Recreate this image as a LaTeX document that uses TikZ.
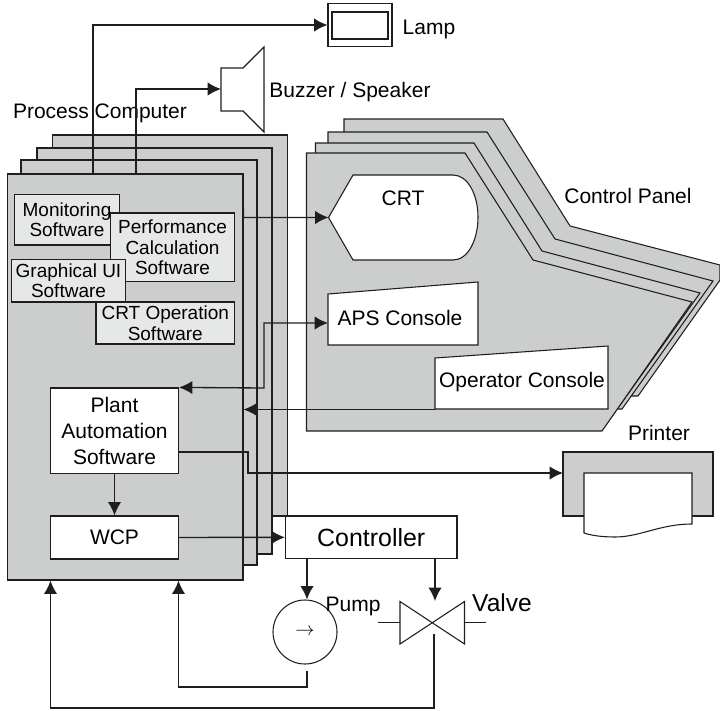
\documentclass[tikz,border=0pt]{standalone}
\usepackage{fontspec}
\setmainfont{Liberation Sans}
\usepackage{tikz}
\usetikzlibrary{arrows.meta, positioning, calc}
\definecolor{PlateGray}{RGB}{204,206,205}
\definecolor{SoftGray}{RGB}{230,231,231}
\definecolor{InkDark}{RGB}{30,30,30}
\tikzset{
	layerbox/.style={draw=InkDark,fill=PlateGray,line width=0.9pt,inner sep=0pt},
	softbox/.style={draw=InkDark,fill=SoftGray,line width=0.9pt,inner sep=0pt,align=center,
		font=\fontsize{14.25}{15.6}\selectfont},
	plainbox/.style={draw=InkDark,fill=white,line width=0.9pt,inner sep=0pt,align=center,
		font=\fontsize{15.75}{19.5}\selectfont},
	lbl/.style={inner sep=0pt,font=\fontsize{15.75}{19}\selectfont},
	plate/.style={draw=InkDark,fill=PlateGray,line width=0.8pt,line join=miter},
	window/.style={draw=InkDark,fill=white,line width=0.8pt},
	flowline/.style={draw=InkDark,line width=1pt,-{Latex[length=10pt,width=10pt]}},
	flowboth/.style={draw=InkDark,line width=1pt,{Latex[length=10pt,width=10pt]}-{Latex[length=10pt,width=10pt]}},
}
\begin{document}
\begin{tikzpicture}[x=0.75pt,y=-0.75pt]
\useasboundingbox (0,0) rectangle (720,710);
% labels
\node[lbl] (pclabel) at (100,113) {Process Computer};
\node[lbl] (lamplabel) at (429,29) {Lamp};
\node[lbl] (buzzerlabel) at (350,92) {Buzzer / Speaker};
\node[lbl] (panellabel) at (628,196) {Control Panel};
\node[lbl] (printerlabel) at (659,433) {Printer};
% process computer stack
\node[layerbox,minimum width=176.25pt,minimum height=285.75pt] (pcback) at (170,325.5) {};
\node[layerbox,minimum width=176.25pt,minimum height=304.5pt] (pcthird) at (154.5,351) {};
\node[layerbox,minimum width=177pt,minimum height=303.75pt] (pcsecond) at (139,362.5) {};
\node[layerbox,minimum width=176.6pt,minimum height=304.5pt] (pcfront) at (125.25,377) {};
\node[softbox,minimum width=78.75pt,minimum height=37.9pt] (monitor) at (67,219.75) {Monitoring\\Software};
\node[softbox,minimum width=93pt,minimum height=51.4pt] (perf) at (172.5,247.25) {Performance\\Calculation\\Software};
\node[softbox,minimum width=85.5pt,minimum height=31.9pt] (gui) at (68.5,280.75) {Graphical UI\\Software};
\node[softbox,minimum width=103.9pt,minimum height=31.5pt] (crtop) at (165.25,323) {CRT Operation\\Software};
\node[plainbox,minimum width=96pt,minimum height=64.1pt] (plant) at (114.5,430.75) {Plant\\Automation\\Software};
\node[plainbox,minimum width=96pt,minimum height=32.25pt] (wcp) at (114.5,537.5) {WCP};
% control panel stack
\draw[plate] (344,119) -- (503,119) -- (570,226) -- (720,265) -- (720,280) -- (638,396) -- (633,396) -- (344,396) -- cycle;
\draw[plate] (328,132) -- (487,132) -- (555,239) -- (713,281) -- (622,409) -- (328,409) -- cycle;
\draw[plate] (315.5,143) -- (474,143) -- (542,251) -- (700,293) -- (608,422) -- (315.5,422) -- cycle;
\draw[plate] (306.5,153) -- (465,153) -- (533,260) -- (692,302) -- (602,431) -- (306.5,431) -- cycle;
\draw[window] (328.5,217.5) -- (353,175) -- (453,175) .. controls (468,175) and (478,195) .. (478,217)
	.. controls (478,240) and (468,260) .. (453,260) -- (353,260) -- cycle;
\draw[window] (328,294) -- (478,282) -- (478,345) -- (328,345) -- cycle;
\draw[window] (435,358) -- (608,346) -- (608,409) -- (435,409) -- cycle;
\node[lbl] (crtlabel) at (403,198) {CRT};
\node[lbl] (apslabel) at (400,318) {APS Console};
\node[lbl] (oplabel) at (522,382) {Operator Console};
% lamp
\node[draw=InkDark,fill=white,line width=0.8pt,minimum width=48pt,minimum height=32.25pt] (lamp) at (360,25) {};
\node[draw=InkDark,fill=white,line width=0.8pt,minimum width=42pt,minimum height=20.25pt] (lampin) at (360,25.5) {};
% buzzer
\draw[draw=InkDark,line width=0.8pt] (221,68) -- (243,68) -- (264,47) -- (264,132) -- (243,111) -- (221,111) -- cycle;
% printer
\node[layerbox,line width=0.8pt,minimum width=112.5pt,minimum height=48pt] (printer) at (638,484) {};
\draw[window] (584,516) -- (584,473) -- (692,473) -- (692,524) .. controls (660,524) and (640,537) .. (615,537) .. controls (600,537) and (590,535) .. (584,533) -- cycle;
% controller, pump and valve
\node[plainbox,font=\fontsize{18.7}{20}\selectfont,minimum width=128.6pt,minimum height=31.9pt] (controller) at (371.25,537.25) {Controller};
\node[draw=InkDark,circle,line width=0.8pt,minimum size=48pt,inner sep=0pt] (pump) at (305,632) {};
\node[inner sep=0pt,font=\fontsize{15}{15}\selectfont] (pumparrow) at (305,632) {$\rightarrow$};
\node[lbl] (pumplabel) at (353,606) {Pump};
\draw[draw=InkDark,line width=0.8pt] (400,601.5) -- (464.5,644) -- (464.5,601.5) -- (400,644) -- cycle;
\draw[draw=InkDark,line width=0.8pt] (378,622.7) -- (400,622.7) (464.5,622.7) -- (486,622.7);
\node[lbl,font=\fontsize{18.4}{20}\selectfont] (valvelabel) at (502,603) {Valve};
% free ends
\coordinate (lampout) at (93,174);
\coordinate (lampbend) at (93,25);
\coordinate (buzzerout) at (136,174);
\coordinate (buzzerbend) at (136,89);
\coordinate (buzzerin) at (221,89);
\coordinate (crtin) at (328.5,217.5);
\coordinate (crtstub) at (243,196);
\coordinate (apsin) at (328,323);
\coordinate (apsbend) at (264,388);
\coordinate (opout) at (435,409.5);
\coordinate (printout) at (248,452);
\coordinate (printdown) at (248,473);
\coordinate (printin) at (563,473);
\coordinate (valvetop) at (435,601);
\coordinate (valveout) at (434,634);
\coordinate (pumpout) at (307,671);
\coordinate (pumpret) at (178.5,687);
\coordinate (valveret) at (50.5,708);
% connectors
\draw[flowline] (lampout) -- (lampbend) -- (lamp.west);
\draw[flowline] (buzzerout) -- (buzzerbend) -- (buzzerin);
\draw[flowline] (crtstub) -- (pcfront.east |- crtin) -- (crtin);
\draw[flowboth] (plant.north east) -- (apsbend) |- (apsin);
\draw[flowline] (opout) -- (pcfront.east |- opout);
\draw[flowline] (plant.east |- printout) -- (printout) -- (printdown) -- (printin);
\draw[flowline] (plant) -- (wcp);
\draw[flowline] (wcp) -- (controller);
\draw[flowline] (controller.south -| pumpout) -- (pumpout |- pump.north);
\draw[flowline] (controller.south -| valvetop) -- (valvetop);
\draw[flowline] (pumpout) |- (pumpret) -- (pumpret |- pcfront.south);
\draw[flowline] (valveout) |- (valveret) -- (valveret |- pcfront.south);
\end{tikzpicture}
\end{document}
